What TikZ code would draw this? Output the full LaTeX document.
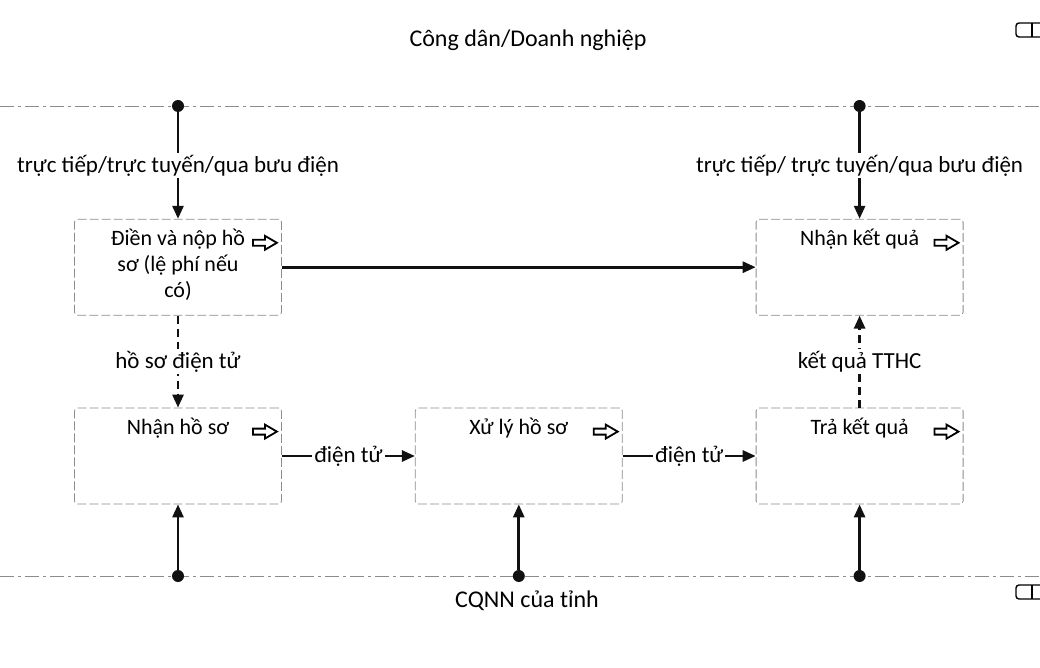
\documentclass[tikz,border=0pt]{standalone}
\usepackage{fontspec}
\setmainfont{Carlito}
\usepackage{tikz}
\usetikzlibrary{arrows.meta,positioning}
\definecolor{frame}{HTML}{8C8C8C}
\definecolor{ink}{HTML}{111111}

\begin{document}
\begin{tikzpicture}[
    x=1pt,y=-1pt,
    >={Triangle[length=13pt,width=11pt]},
    node distance=92pt and 133pt,
    st/.style={draw=frame,dash pattern=on 9pt off 3pt,line width=0.8pt,rounded corners=3pt,
      minimum width=207pt,minimum height=96pt,inner sep=0pt},
    txt/.style={anchor=north,yshift=-7pt,align=center,font=\fontsize{22}{26}\selectfont},
    ttl/.style={font=\fontsize{24}{28}\selectfont},
    lbl/.style={fill=white,inner sep=2pt,font=\fontsize{23}{27}\selectfont},
    lane/.style={draw=frame,line width=0.9pt,dash pattern=on 14pt off 4pt on 3pt off 4pt},
    dot/.style={circle,fill=ink,inner sep=0pt,minimum size=12pt},
    flow/.style={->,line width=2.7pt,draw=ink},
    eflow/.style={flow,dash pattern=on 8pt off 5pt},
    go/.pic={\draw[line width=1.8pt,line join=miter] (-12,-3) -- (0,-3) -- (0,-7) -- (12,0)
      -- (0,7) -- (0,3) -- (-12,3) -- cycle;},
    fold/.pic={\draw[line width=1.4pt,rounded corners=3pt] (32,-7) -- (0,-7) -- (0,7) -- (32,7);
      \draw[line width=1.4pt] (16,-7) -- (16,7);}]
  \useasboundingbox (0,0) rectangle (1040,668);
  \node[ttl] (citizen) at (528,40) {Công dân/Doanh nghiệp};
  \node[ttl] (agency) at (527,601) {CQNN của tỉnh};
  \foreach \y in {30,592} \pic at (1016,\y) {fold};
  \draw[lane] (0,106) -- (1040,106);
  \draw[lane] (0,576) -- (1040,576);
  \node[st,label={[txt]north:Nhận hồ sơ}] (recv) at (178,456) {};
  \node[st,right=of recv,label={[txt]north:Xử lý hồ sơ}] (proc) {};
  \node[st,right=of proc,label={[txt]north:Trả kết quả}] (issue) {};
  \node[st,above=of recv,label={[txt]north:Điền và nộp hồ\\sơ (lệ phí nếu\\có)}] (apply) {};
  \node[st,above=of issue,label={[txt]north:Nhận kết quả}] (collect) {};
  \foreach \b in {apply,collect,recv,proc,issue}
    \pic at ([shift={(-17pt,-24pt)}]\b.north east) {go};
  \node[dot] (in1) at (apply |- 0,106) {};
  \node[dot] (in2) at (collect |- 0,106) {};
  \node[dot] (out1) at (recv |- 0,576) {};
  \node[dot] (out2) at (proc |- 0,576) {};
  \node[dot] (out3) at (issue |- 0,576) {};
  \draw[flow] (in1) -- node[lbl]{trực tiếp/trực tuyến/qua bưu điện} (apply);
  \draw[flow] (in2) -- node[lbl]{trực tiếp/ trực tuyến/qua bưu điện} (collect);
  \draw[flow] (apply) -- (collect);
  \draw[eflow] (apply) -- node[lbl]{hồ sơ điện tử} (recv);
  \draw[eflow] (issue) -- node[lbl]{kết quả TTHC} (collect);
  \draw[flow] (recv) -- node[lbl]{điện tử} (proc);
  \draw[flow] (proc) -- node[lbl]{điện tử} (issue);
  \draw[flow] (out1) -- (recv);
  \draw[flow] (out2) -- (proc);
  \draw[flow] (out3) -- (issue);
\end{tikzpicture}
\end{document}
